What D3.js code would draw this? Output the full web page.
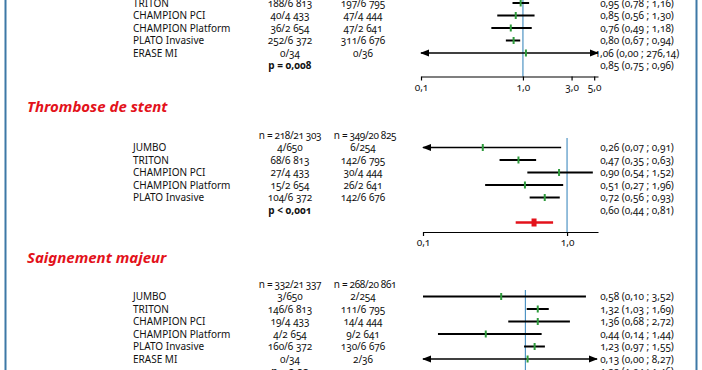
<!DOCTYPE html>
<html><head><meta charset="utf-8">
<script src="https://cdn.jsdelivr.net/npm/d3@7"></script>
<style>
body{margin:0;background:#fff;}
svg{display:block;font-family:"Noto Sans",sans-serif;font-variant-numeric:oldstyle-nums;}
</style></head><body>
<script>
var W = 702, H = 370;

// --- section 1 (top, cut off) ---
var s1Studies = ["TRITON","CHAMPION PCI","CHAMPION Platform","PLATO Invasive","ERASE MI"];
var s1Prasu = ["188/6 813","40/4 433","36/2 654","252/6 372","0/34"];
var s1Clopi = ["197/6 795","47/4 444","47/2 641","311/6 676","0/36"];
var s1Est = [0.95,0.85,0.76,0.81,1.07];
var s1Lo = [0.79,0.56,0.49,0.68,0];
var s1Hi = [1.15,1.30,1.22,0.94,276.14];
var s1Txt = ["0,95 (0,78 ; 1,16)","0,85 (0,56 ; 1,30)","0,76 (0,49 ; 1,18)","0,80 (0,67 ; 0,94)","1,06 (0,00 ; 276,14)"];
var s1P = "p = 0,008", s1Pool = "0,85 (0,75 ; 0,96)";
var s1Ticks = [0.1,1,3,5];

// --- section 2 ---
var s2Title = "Thrombose de stent";
var s2Head = ["n = 218/21 303","n = 349/20 825"];
var s2Studies = ["JUMBO","TRITON","CHAMPION PCI","CHAMPION Platform","PLATO Invasive"];
var s2Prasu = ["4/650","68/6 813","27/4 433","15/2 654","104/6 372"];
var s2Clopi = ["6/254","142/6 795","30/4 444","26/2 641","142/6 676"];
var s2Est = [0.26,0.46,0.88,0.51,0.70];
var s2Lo = [0.07,0.34,0.53,0.27,0.55];
var s2Hi = [0.91,0.61,1.51,0.94,0.89];
var s2Txt = ["0,26 (0,07 ; 0,91)","0,47 (0,35 ; 0,63)","0,90 (0,54 ; 1,52)","0,51 (0,27 ; 1,96)","0,72 (0,56 ; 0,93)"];
var s2P = "p < 0,001", s2Pool = "0,60 (0,44 ; 0,81)";
var s2PoolEst = 0.59, s2PoolLo = 0.44, s2PoolHi = 0.80;
var s2Ticks = [0.1,1];

// --- section 3 ---
var s3Title = "Saignement majeur";
var s3Head = ["n = 332/21 337","n = 268/20 861"];
var s3Studies = ["JUMBO","TRITON","CHAMPION PCI","CHAMPION Platform","PLATO Invasive","ERASE MI"];
var s3Prasu = ["3/650","146/6 813","19/4 433","4/2 654","160/6 372","0/34"];
var s3Clopi = ["2/254","111/6 795","14/4 444","9/2 641","130/6 676","2/36"];
var s3Est = [0.58,1.32,1.32,0.41,1.23,1.05];
var s3Lo = [0.10,1.03,0.68,0.14,0.97,0];
var s3Hi = [3.9,1.69,2.72,1.44,1.55,8.27];
var s3Txt = ["0,58 (0,10 ; 3,52)","1,32 (1,03 ; 1,69)","1,36 (0,68 ; 2,72)","0,44 (0,14 ; 1,44)","1,23 (0,97 ; 1,55)","0,13 (0,00 ; 8,27)"];
var s3P = "p = 0,03", s3Pool = "1,22 (1,04 ; 1,46)";

var RED = "#e3121b", GREEN = "#2e9b3c", BLUE = "#4f94c4", FRAME = "#3d78a6";
var STEP = 12.5;

var svg = d3.select("body").append("svg").attr("width", W).attr("height", H);

svg.append("defs").append("marker")
  .attr("id","ah").attr("viewBox","0 0 10 10").attr("refX",9).attr("refY",5)
  .attr("markerWidth",7).attr("markerHeight",7).attr("orient","auto-start-reverse")
  .append("path").attr("d","M0,1 L10,5 L0,9 Z").attr("fill","#000");

// frame
svg.append("line").attr("x1",5.5).attr("x2",5.5).attr("y1",0).attr("y2",H).attr("stroke",FRAME).attr("stroke-width",2);
svg.append("line").attr("x1",696.5).attr("x2",696.5).attr("y1",0).attr("y2",H).attr("stroke",FRAME).attr("stroke-width",2);

var fmt = function(d) { return d3.format(".1f")(d).replace(".", ","); };

function text(x, y, s, anchor, weight) {
  return svg.append("text").attr("x", x).attr("y", y).attr("dy","0.35em")
    .attr("text-anchor", anchor).attr("font-size", 10).attr("font-weight", weight || 400)
    .attr("fill","#111").text(s);
}

function section(o) {
  var x = d3.scaleLog().domain(o.domain).range(o.range);
  if (o.title) {
    svg.append("text").attr("x",27).attr("y",o.titleY).attr("dy","0.35em")
      .attr("font-size",15).attr("font-weight",700).attr("font-style","italic")
      .attr("fill",RED).text(o.title);
  }
  if (o.head) {
    text(290, o.y0 - STEP, o.head[0], "middle").attr("letter-spacing", -0.35);
    text(365, o.y0 - STEP, o.head[1], "middle").attr("letter-spacing", -0.35);
  }
  // reference line at 1
  svg.append("line").attr("x1",x(1)).attr("x2",x(1)).attr("y1",o.refTop).attr("y2",o.axisY)
    .attr("stroke",BLUE).attr("stroke-width",1.2);

  o.studies.forEach(function(s, i) {
    var y = o.y0 + i * STEP;
    text(133, y, s, "start");
    text(290, y, o.prasu[i], "middle");
    text(363, y, o.clopi[i], "middle");
    text(637, y, o.txt[i], "middle");
    var lo = Math.max(o.lo[i], o.domain[0]), hi = Math.min(o.hi[i], o.domain[1]);
    var arrow = o.lo[i] < o.domain[0] || o.hi[i] > o.domain[1];
    var ln = svg.append("line").attr("x1", x(lo)).attr("x2", x(hi)).attr("y1", y).attr("y2", y)
      .attr("stroke","#000").attr("stroke-width", arrow ? 1.3 : 2);
    if (o.lo[i] < o.domain[0]) ln.attr("marker-start","url(#ah)");
    if (o.hi[i] > o.domain[1]) ln.attr("marker-end","url(#ah)");
    svg.append("line").attr("x1", x(o.est[i])).attr("x2", x(o.est[i]))
      .attr("y1", y - 3.5).attr("y2", y + 3.5).attr("stroke", GREEN).attr("stroke-width", 2);
  });
  var yp = o.y0 + o.studies.length * STEP;
  text(290, yp, o.p, "middle", 700);
  text(637, yp, o.pool, "middle");
  if (o.poolEst) {
    var yr = yp + STEP;
    svg.append("line").attr("x1", x(o.poolLo)).attr("x2", x(o.poolHi)).attr("y1", yr).attr("y2", yr)
      .attr("stroke", RED).attr("stroke-width", 2.5);
    svg.append("rect").attr("x", x(o.poolEst) - 2.5).attr("y", yr - 4).attr("width", 5).attr("height", 8)
      .attr("fill", RED);
  }
  if (o.ticks) {
    var ax = svg.append("g").attr("transform","translate(0," + o.axisY + ")")
      .call(d3.axisBottom(x).tickValues(o.ticks).tickFormat(fmt).tickSize(4).tickSizeOuter(0));
    ax.selectAll("path,line").attr("stroke","#000").attr("stroke-width",1.2);
    ax.selectAll("text").attr("font-size",10).attr("font-family","Noto Sans").attr("fill","#111");
  }
}

section({domain:[0.1,5.45], range:[421,598], y0:3, studies:s1Studies, prasu:s1Prasu, clopi:s1Clopi,
  est:s1Est, lo:s1Lo, hi:s1Hi, txt:s1Txt, p:s1P, pool:s1Pool, refTop:0, axisY:76.5, ticks:s1Ticks});

section({title:s2Title, titleY:107, head:s2Head, domain:[0.1,1.64], range:[423,598], y0:147.5,
  studies:s2Studies, prasu:s2Prasu, clopi:s2Clopi, est:s2Est, lo:s2Lo, hi:s2Hi, txt:s2Txt,
  p:s2P, pool:s2Pool, poolEst:s2PoolEst, poolLo:s2PoolLo, poolHi:s2PoolHi,
  refTop:138, axisY:232, ticks:s2Ticks});

section({title:s3Title, titleY:258, head:s3Head, domain:[0.1,5], range:[423,597], y0:296.5,
  studies:s3Studies, prasu:s3Prasu, clopi:s3Clopi, est:s3Est, lo:s3Lo, hi:s3Hi, txt:s3Txt,
  p:s3P, pool:s3Pool, refTop:290, axisY:H + 20});
</script>
</body></html>
